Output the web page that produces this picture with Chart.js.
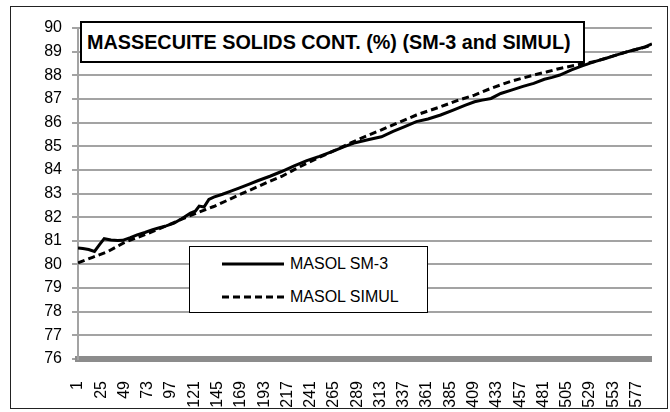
<!DOCTYPE html>
<html>
<head>
<meta charset="utf-8">
<script src="https://cdn.jsdelivr.net/npm/chart.js@4/dist/chart.umd.min.js"></script>
<style>
  body { margin: 0; background: #fff; width: 670px; height: 412px; overflow: hidden; position: relative; font-family: "Liberation Sans", Arial, sans-serif; }
  #frame { position: absolute; left: 10px; top: 6px; width: 656px; height: 401px; border: 1.5px solid #222; }
  #chart { position: absolute; left: 0; top: 0; }
  #title { position: absolute; left: 80px; top: 21px; width: 496px; height: 38px; border: 2px solid #000; background: #fff;
           font-weight: bold; font-size: 19.8px; line-height: 38px; padding-left: 5px; white-space: nowrap; }
  #legend { position: absolute; left: 189px; top: 246px; width: 237px; height: 65px; border: 1.5px solid #000; background: #fff; }
  .row { position: absolute; left: 0; height: 20px; font-size: 16px; line-height: 20px; white-space: nowrap; }
  .row svg { position: absolute; left: 32px; top: 8px; }
  .row span { position: absolute; left: 100px; top: 0; }
</style>
</head>
<body>
<div id="frame"></div>
<canvas id="chart" width="670" height="412"></canvas>
<div id="title">MASSECUITE SOLIDS CONT. (%) (SM-3 and SIMUL)</div>
<div id="legend">
  <div class="row" style="top:7px"><svg width="62" height="4"><line x1="0" y1="2" x2="62" y2="2" stroke="#000" stroke-width="3"/></svg><span>MASOL SM-3</span></div>
  <div class="row" style="top:40px"><svg width="62" height="4"><line x1="0" y1="2" x2="62" y2="2" stroke="#000" stroke-width="3" stroke-dasharray="7,4"/></svg><span>MASOL SIMUL</span></div>
</div>
<script>
// x tick labels (sample number)
var xTicks = [1, 25, 49, 73, 97, 121, 145, 169, 193, 217, 241, 265, 289, 313, 337, 361, 385, 409, 433, 457, 481, 505, 529, 553, 577];

// MASOL SM-3
var sm3X = [1, 6, 12, 18, 23, 28, 35, 42, 47, 55, 62, 70, 78, 85, 92, 100, 108, 117, 122, 126, 131, 136, 141, 150, 158, 167, 177, 187, 199, 211, 224, 237, 250, 263, 275, 287, 300, 314, 326, 338, 350, 362, 375, 388, 400, 410, 418, 427, 437, 448, 460, 471, 482, 490, 498, 510, 521, 533, 545, 556, 567, 578, 586, 593];
var sm3Y = [80.70, 80.67, 80.63, 80.55, 80.83, 81.09, 81.03, 81.01, 81.02, 81.13, 81.25, 81.35, 81.47, 81.55, 81.63, 81.75, 81.93, 82.17, 82.25, 82.47, 82.43, 82.75, 82.85, 82.97, 83.09, 83.23, 83.39, 83.55, 83.73, 83.93, 84.17, 84.39, 84.57, 84.77, 84.97, 85.15, 85.27, 85.40, 85.63, 85.83, 86.04, 86.15, 86.32, 86.53, 86.73, 86.88, 86.95, 87.02, 87.23, 87.37, 87.53, 87.66, 87.83, 87.91, 88.01, 88.23, 88.40, 88.57, 88.71, 88.85, 88.99, 89.11, 89.20, 89.33];

// MASOL SIMUL
var simX = [1, 16, 32, 49, 70, 90, 110, 125, 141, 155, 167, 187, 199, 211, 224, 237, 250, 263, 280, 297, 314, 332, 350, 362, 375, 392, 410, 427, 448, 471, 485, 498, 515, 533, 550, 567, 580, 593];
var simY = [80.07, 80.30, 80.55, 80.93, 81.26, 81.60, 81.95, 82.20, 82.45, 82.71, 82.94, 83.30, 83.52, 83.72, 84.01, 84.28, 84.53, 84.77, 85.10, 85.41, 85.69, 86.01, 86.32, 86.49, 86.67, 86.93, 87.16, 87.45, 87.75, 88.01, 88.15, 88.29, 88.43, 88.57, 88.78, 88.99, 89.13, 89.27];

function pts(xs, ys) {
  return xs.map(function (x, i) { return { x: x, y: ys[i] }; });
}

var font = { family: "'Liberation Sans', Arial, sans-serif", size: 16 };

new Chart(document.getElementById('chart'), {
  type: 'line',
  data: {
    datasets: [{
      label: 'MASOL SM-3',
      data: pts(sm3X, sm3Y),
      borderColor: '#000',
      borderWidth: 3,
      pointRadius: 0,
      tension: 0
    }, {
      label: 'MASOL SIMUL',
      data: pts(simX, simY),
      borderColor: '#000',
      borderWidth: 3,
      borderDash: [7, 4],
      pointRadius: 0,
      tension: 0
    }]
  },
  options: {
    responsive: false,
    animation: false,
    devicePixelRatio: 1,
    layout: { padding: { left: 0, top: 28, right: 13, bottom: 0 } },
    plugins: { legend: { display: false }, title: { display: false }, tooltip: { enabled: false } },
    scales: {
      x: {
        type: 'linear',
        min: 1,
        max: 593,
        afterBuildTicks: function (scale) {
          scale.ticks = xTicks.map(function (v) { return { value: v }; });
        },
        afterFit: function (scale) { scale.height = 53; },
        grid: { display: false },
        border: { display: true, color: '#8c8c8c', width: 6 },
        ticks: { color: '#000', font: font, minRotation: 90, maxRotation: 90, padding: 14, autoSkip: false }
      },
      y: {
        min: 76,
        max: 90,
        afterFit: function (scale) { scale.width = 78; },
        grid: { color: '#a3a3a3', lineWidth: 2, drawTicks: true, tickLength: 6 },
        border: { display: true, color: '#a3a3a3', width: 2 },
        ticks: { color: '#000', font: font, stepSize: 1, padding: 10 }
      }
    }
  }
});
</script>
</body>
</html>
